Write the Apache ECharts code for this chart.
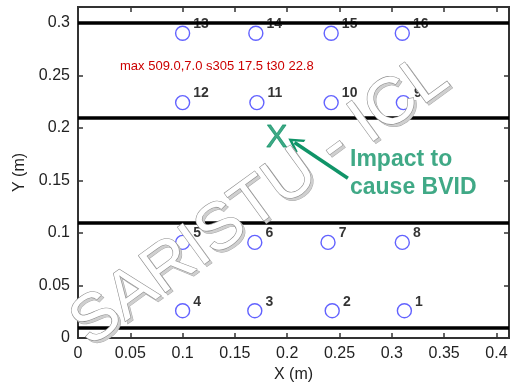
<!DOCTYPE html>
<html>
<head>
<meta charset="utf-8">
<script src="https://cdn.jsdelivr.net/npm/echarts@6/dist/echarts.min.js"></script>
<style>html,body{margin:0;padding:0;background:#fff}#c{width:513px;height:389px}</style>
</head>
<body>
<div id="c"></div>
<script>
// Sensor positions (m)
const sensorIds = ['1','2','3','4','5','6','7','8','9','10','11','12','13','14','15','16'];
const sensorX = [0.312,0.243,0.169,0.100, 0.100,0.169,0.239,0.310, 0.311,0.242,0.171,0.100, 0.100,0.170,0.242,0.310];
const sensorY = [0.026,0.026,0.026,0.026, 0.091,0.091,0.091,0.091, 0.224,0.224,0.224,0.224, 0.290,0.290,0.290,0.290];
// Stiffener lines (m)
const stiffenerY = [0.011, 0.106, 0.210, 0.305];
// Impact location
const impactX = [0.190];
const impactY = [0.190];
// Arrow (tail -> head) and annotation
const arrowFrom = [0.258, 0.152];
const arrowTo = [0.207, 0.186];
const noteXY = [0.260, 0.156];
const noteText = 'Impact to\ncause BVID';
// Axes
const xMin = 0, xMax = 0.412, yMin = 0, yMax = 0.315, tickStep = 0.05;
const xTitle = 'X (m)', yTitle = 'Y (m)';
const watermark = 'SARISTU - ICL';

const FONT = "'Liberation Sans', Arial, sans-serif";
const GREEN = '#109468';
const AX = '#333333';
const chart = echarts.init(document.getElementById('c'));

function fmt(v){
  const k = Math.round(v / tickStep);
  if (Math.abs(v - k * tickStep) > 1e-6) return '';
  return String(+(k * tickStep).toFixed(2));
}
function mkLine(){ return {show:true, onZero:false, lineStyle:{color:AX, width:2}}; }
function mkTick(){ return {show:true, inside:true, length:5, lineStyle:{color:AX, width:1.5}}; }
function mkLabel(){ return {color:'#222', fontSize:16, fontFamily:FONT, formatter:fmt, margin:8}; }

chart.setOption({
  animation:false,
  grid:{left:78, right:4, top:7, bottom:51, outerBoundsMode:'none',
        show:true, borderColor:AX, borderWidth:2},
  xAxis:[
    {type:'value', min:xMin, max:xMax, interval:tickStep, position:'bottom',
     axisLine:mkLine(), axisTick:mkTick(), axisLabel:mkLabel(), splitLine:{show:false},
     name:xTitle, nameLocation:'middle', nameGap:28,
     nameTextStyle:{color:'#222', fontSize:16, fontFamily:FONT}},
    {type:'value', min:xMin, max:xMax, interval:tickStep, position:'top',
     axisLine:mkLine(), axisTick:mkTick(), axisLabel:{show:false}, splitLine:{show:false}}
  ],
  yAxis:[
    {type:'value', min:yMin, max:yMax, interval:tickStep, position:'left',
     axisLine:mkLine(), axisTick:mkTick(), axisLabel:mkLabel(), splitLine:{show:false},
     name:yTitle, nameLocation:'middle', nameGap:50, nameRotate:90,
     nameTextStyle:{color:'#222', fontSize:16, fontFamily:FONT}},
    {type:'value', min:yMin, max:yMax, interval:tickStep, position:'right',
     axisLine:mkLine(), axisTick:mkTick(), axisLabel:{show:false}, splitLine:{show:false}}
  ],
  series:[
    {
      type:'line', data:[], silent:true,
      markLine:{
        silent:true, symbol:['none','none'], label:{show:false},
        lineStyle:{color:'#000', width:3.5, type:'solid'},
        data: stiffenerY.map(y => ({yAxis:y}))
      }
    },
    {
      type:'scatter', symbol:'circle', symbolSize:14,
      itemStyle:{color:'transparent', borderColor:'#3b3bff', borderWidth:1.4},
      label:{show:true, position:'right', distance:3, offset:[0,-9],
             formatter:p => p.data[2], color:'#000', fontSize:14, fontWeight:'bold', fontFamily:FONT},
      data: sensorX.map((x,i) => [x, sensorY[i], sensorIds[i]]),
      z:3
    },
    {
      type:'scatter', symbolSize:0,
      data: impactX.map((x,i) => [x, impactY[i]]),
      label:{show:true, position:'inside', formatter:'X', color:GREEN, fontSize:32, fontFamily:FONT,
             textBorderColor:GREEN, textBorderWidth:0.8},
      markLine:{
        silent:true, symbol:['none','path://M0,10 L5,0 L10,10 L8.3,10 L5,3.4 L1.7,10 Z'],
        symbolSize:[17,15], label:{show:false},
        lineStyle:{color:GREEN, width:3.5, type:'solid'},
        data:[[{coord:arrowFrom},{coord:arrowTo}]]
      },
      z:4
    },
    {
      type:'scatter', symbolSize:0,
      data:[[noteXY[0], noteXY[1]]],
      label:{show:true, position:'right', distance:0, formatter:noteText, color:GREEN,
             fontSize:23, fontWeight:'bold', fontFamily:FONT, lineHeight:28, align:'left'},
      z:4
    }
  ],
  graphic:[
    {type:'text', x:262.5, y:203.5, rotation:36*Math.PI/180, z:100, silent:true,
     style:{text:watermark, font:"66px 'Liberation Sans', Arial, sans-serif",
            align:'center', verticalAlign:'middle', fill:'#cfcfcf', stroke:'#a8a8a8', lineWidth:1}},
    {type:'text', x:260, y:201, rotation:36*Math.PI/180, z:101, silent:true,
     style:{text:watermark, font:"66px 'Liberation Sans', Arial, sans-serif",
            align:'center', verticalAlign:'middle', fill:'#ffffff', stroke:'#8c8c8c', lineWidth:1.2}}
  ]
});
// debug readout
const p0 = chart.convertToPixel({gridIndex:0}, [xMax, yMax]);
const p1 = chart.convertToPixel({gridIndex:0}, [0, 0.305]);
const p2 = chart.convertToPixel({gridIndex:0}, [0, 0.3]);
chart.setOption({graphic:[{type:'text', id:'dbg', x:120, y:60, z:200,
  style:{text:'max '+p0.map(v=>v.toFixed(1)).join(',')+' s305 '+p1[1].toFixed(1)+' t30 '+p2[1].toFixed(1), fontSize:13, fill:'#c00'}}]});
</script>
</body>
</html>
